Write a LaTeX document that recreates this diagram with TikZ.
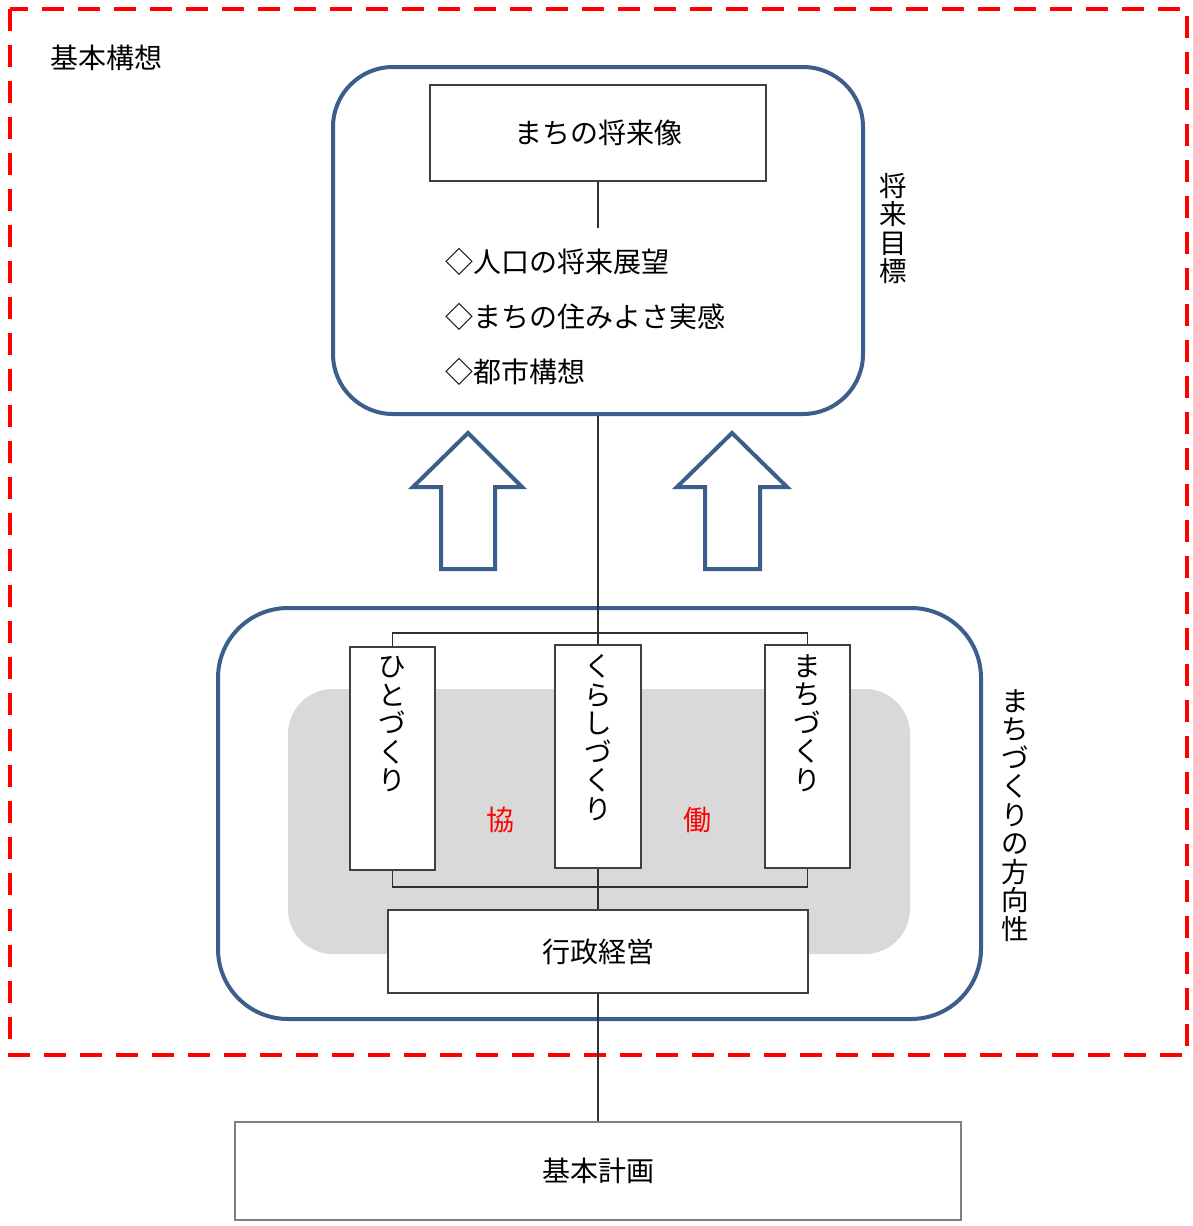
\documentclass[tikz,border=0pt]{standalone}
\usepackage{fontspec}
\setmainfont{Noto Sans CJK JP}
\begin{document}
\begin{tikzpicture}[x=1pt,y=-1pt,
  blueline/.style={draw=frameblue,line width=4pt},
  plainbox/.style={draw=boxgray,line width=1.2pt,fill=white,rectangle,inner sep=0pt},
  conn/.style={draw=linegray,line width=1.3pt},
  jtext/.style={font=\fontsize{28}{30}\selectfont,inner sep=0pt},
  vtext/.style={font=\fontsize{27.5}{28.5}\selectfont,inner sep=0pt,align=center,anchor=north}]
\definecolor{frameblue}{HTML}{3B5E8C}
\definecolor{boxgray}{HTML}{404040}
\definecolor{linegray}{HTML}{303030}
\definecolor{softgray}{HTML}{D9D9D9}
\useasboundingbox (0,0) rectangle (1192,1226);
\fill[white] (0,0) rectangle (1192,1226);
% outer red dashed frame
\draw[red,line width=4pt,dash pattern=on 22pt off 14pt] (10,9) rectangle (1187,1055);
\node[jtext,anchor=west] (kihonkoso) at (50,58) {基本構想};
% top rounded frame
\node[blueline,fill=white,rectangle,rounded corners=60pt,minimum width=530pt,minimum height=347pt] (topbox) at (598,240.5) {};
\node[plainbox,minimum width=336pt,minimum height=96pt,jtext] (shorai) at (598,133) {まちの将来像};
\coordinate (listtop) at (598,228);
\draw[conn] (shorai.south) -- (listtop);
\node[jtext,anchor=west] (l1) at (445,262) {◇人口の将来展望};
\node[jtext,anchor=west] (l2) at (445,317) {◇まちの住みよさ実感};
\node[jtext,anchor=west] (l3) at (445,372) {◇都市構想};
\node[vtext] (mokuhyo) at (893,173) {将\\来\\目\\標};
% bottom rounded frame
\node[blueline,fill=white,rectangle,rounded corners=70pt,minimum width=763pt,minimum height=411pt] (botbox) at (599.5,813.5) {};
\fill[softgray,rounded corners=45pt] (288,689) rectangle (910,954);
\node[vtext] (hoko) at (1015,689) {ま\\ち\\づ\\く\\り\\の\\方\\向\\性};
% up arrows
\draw[blueline,line join=miter] (468,433) -- (522,487) -- (495,487) -- (495,569) -- (441,569) -- (441,487) -- (413,487) -- cycle;
\draw[blueline,line join=miter] (732,433) -- (787,487) -- (760,487) -- (760,569) -- (705,569) -- (705,487) -- (677,487) -- cycle;
% three pillars
\node[plainbox,minimum width=85pt,minimum height=223pt] (hito) at (392.5,758.5) {};
\node[plainbox,minimum width=86pt,minimum height=223pt] (kurashi) at (598,756.5) {};
\node[plainbox,minimum width=85pt,minimum height=223pt] (machi) at (807.5,756.5) {};
\node[vtext] (hitot) at (hito.north) [yshift=-10pt] {ひ\\と\\づ\\く\\り};
\node[vtext] (kurashit) at (kurashi.north) [yshift=-10pt] {く\\ら\\し\\づ\\く\\り};
\node[vtext] (machit) at (machi.north) [yshift=-10pt] {ま\\ち\\づ\\く\\り};
\node[jtext,text=red] (kyo) at (500,820) {協};
\node[jtext,text=red] (do) at (697,820) {働};
\node[plainbox,minimum width=420pt,minimum height=83pt,jtext] (gyosei) at (598,951.5) {行政経営};
\node[plainbox,draw=gray,minimum width=726pt,minimum height=98pt,jtext] (kihon) at (598,1171) {基本計画};
% connectors
\coordinate (tbar) at (598,633);
\coordinate (bbar) at (598,887);
\draw[conn] (hito.north) |- (tbar) -| (machi.north);
\draw[conn] (hito.south) |- (bbar) -| (machi.south);
\draw[conn] (topbox.south) -- (kurashi.north);
\draw[conn] (kurashi.south) -- (gyosei.north);
\draw[conn] (gyosei.south) -- (kihon.north);
\end{tikzpicture}
\end{document}
